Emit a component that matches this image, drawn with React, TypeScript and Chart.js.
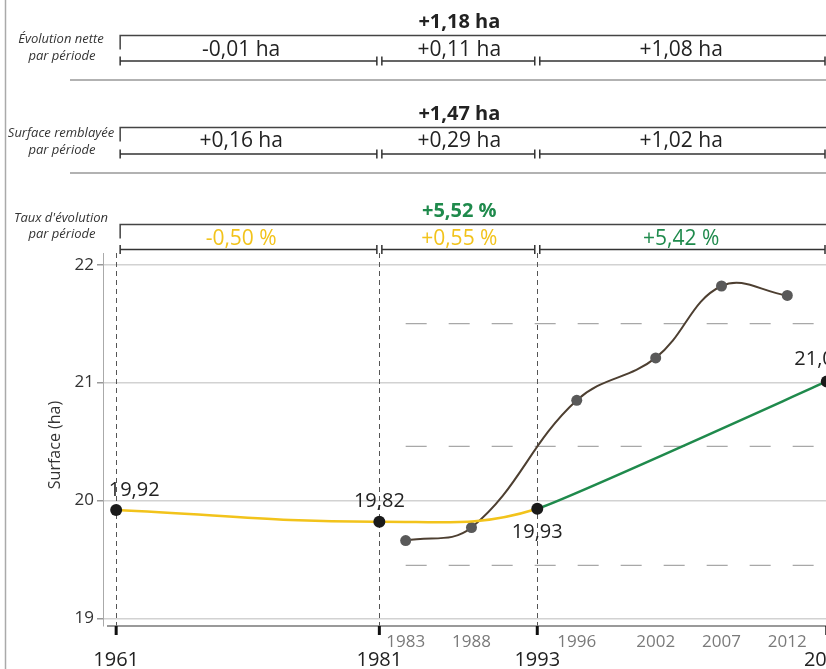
import React, { useEffect, useRef } from "react";
import { Chart, registerables } from "chart.js";

Chart.register(...registerables);

// ---- data ----
const mainYears = [1961, 1981, 1993, 2015];
const mainValues = [19.92, 19.82, 19.93, 21.01];
const mainLabels = ["19,92", "19,82", "19,93", "21,01"];
const surveyYears = [1983, 1988, 1996, 2002, 2007, 2012];
const surveyValues = [19.66, 19.77, 20.85, 21.21, 21.82, 21.74];
const refLineYears = [1983, 2014];
const refLineValues = [21.5, 20.46, 19.45];
const yTicks = [19, 20, 21, 22];
const periodBounds = [1961, 1981, 1993, 2015];
const majorYearLabels = ["1961", "1981", "1993", "2015"];
const rowTitles = [
  ["Évolution nette", "par période"],
  ["Surface remblayée", "par période"],
  ["Taux d'évolution", "par période"],
];
const rowTotals = ["+1,18 ha", "+1,47 ha", "+5,52 %"];
const netValues = ["-0,01 ha", "+0,11 ha", "+1,08 ha"];
const filledValues = ["+0,16 ha", "+0,29 ha", "+1,02 ha"];
const rateValues = ["-0,50 %", "+0,55 %", "+5,42 %"];

const YELLOW = "#f2c31b";
const GREEN = "#1f8a4c";
const BROWN = "#4d3f31";
const CLEAR = "rgba(0,0,0,0)";
const FONT = "'Open Sans', 'Noto Sans', sans-serif";

const rowGeom = [
  { totalY: 22.5, topY: 35.5, valueY: 50, bottomY: 61, sepY: 80, l1: 39, l2: 56 },
  { totalY: 114, topY: 127.5, valueY: 141, bottomY: 154, sepY: 173, l1: 133, l2: 150 },
  { totalY: 211, topY: 224.5, valueY: 239, bottomY: 249.5, sepY: null as number | null, l1: 218, l2: 234 },
];

const decorPlugin = {
  id: "decor",
  beforeDatasetsDraw(chart: any) {
    const { ctx, chartArea } = chart;
    const xs = chart.scales.x;
    ctx.save();
    // vertical dashed period lines
    ctx.strokeStyle = "#555";
    ctx.lineWidth = 1;
    ctx.setLineDash([5, 4]);
    periodBounds.forEach((yr) => {
      const x = Math.round(xs.getPixelForValue(yr)) + 0.5;
      ctx.beginPath();
      ctx.moveTo(x, chartArea.top);
      ctx.lineTo(x, chartArea.bottom);
      ctx.stroke();
    });
    ctx.setLineDash([]);
    // x axis line
    ctx.strokeStyle = "#777";
    ctx.lineWidth = 1.5;
    ctx.beginPath();
    ctx.moveTo(chartArea.left + 4, chartArea.bottom);
    ctx.lineTo(chartArea.right, chartArea.bottom);
    ctx.stroke();
    // thick ticks
    ctx.strokeStyle = "#111";
    ctx.lineWidth = 3;
    periodBounds.forEach((yr) => {
      const x = xs.getPixelForValue(yr);
      ctx.beginPath();
      ctx.moveTo(x, chartArea.bottom);
      ctx.lineTo(x, chartArea.bottom + 9);
      ctx.stroke();
    });
    // x labels
    ctx.textAlign = "center";
    ctx.textBaseline = "middle";
    ctx.fillStyle = "#7a7a7a";
    ctx.font = `17px ${FONT}`;
    surveyYears.forEach((yr) => {
      ctx.fillText(String(yr), xs.getPixelForValue(yr), chartArea.bottom + 16);
    });
    ctx.fillStyle = "#222";
    ctx.font = `20px ${FONT}`;
    periodBounds.forEach((yr, i) => {
      ctx.fillText(majorYearLabels[i], xs.getPixelForValue(yr), chartArea.bottom + 34);
    });
    // y title
    ctx.save();
    ctx.translate(55, 445);
    ctx.rotate(-Math.PI / 2);
    ctx.fillStyle = "#333";
    ctx.font = `16px ${FONT}`;
    ctx.fillText("Surface (ha)", 0, 0);
    ctx.restore();
    ctx.restore();
  },
  afterDatasetsDraw(chart: any) {
    const { ctx } = chart;
    const xs = chart.scales.x;
    const ys = chart.scales.y;
    ctx.save();
    ctx.fillStyle = "#222";
    ctx.font = `20px ${FONT}`;
    ctx.textAlign = "center";
    ctx.textBaseline = "middle";
    const offs = [
      [18, -20],
      [0, -20],
      [0, 24],
      [-7, -22],
    ];
    mainYears.forEach((yr, i) => {
      const x = xs.getPixelForValue(yr) + offs[i][0];
      const y = ys.getPixelForValue(mainValues[i]) + offs[i][1];
      ctx.fillText(mainLabels[i], x, y);
    });
    ctx.restore();
  },
  afterDraw(chart: any) {
    const { ctx, chartArea } = chart;
    const xs = chart.scales.x;
    const px = periodBounds.map((y) => xs.getPixelForValue(y));
    const left = px[0] + 4;
    const right = Math.min(px[3], 825);
    const b1 = px[1];
    const b2 = px[2];
    const centers = [(chartArea.left + b1) / 2, (b1 + b2) / 2 + 1, (b2 + right) / 2];
    const segs = [
      [left, b1 - 2.5],
      [b1 + 2.5, b2 - 2.5],
      [b2 + 2.5, right],
    ];
    const rowValues = [netValues, filledValues, rateValues];
    const valueColors = [
      ["#222", "#222", "#222"],
      ["#222", "#222", "#222"],
      [YELLOW, YELLOW, GREEN],
    ];
    const totalColors = ["#222", "#222", GREEN];
    ctx.save();
    // left frame line
    ctx.strokeStyle = "#aaa";
    ctx.lineWidth = 1.5;
    ctx.beginPath();
    ctx.moveTo(5.5, 0);
    ctx.lineTo(5.5, chart.height);
    ctx.stroke();

    ctx.textBaseline = "middle";
    rowGeom.forEach((g, r) => {
      // left labels
      ctx.fillStyle = "#333";
      ctx.font = `italic 13px ${FONT}`;
      ctx.textAlign = "center";
      ctx.fillText(rowTitles[r][0], 61, g.l1);
      ctx.fillText(rowTitles[r][1], 62, g.l2);
      // total
      ctx.fillStyle = totalColors[r];
      ctx.font = `bold 20px ${FONT}`;
      ctx.fillText(rowTotals[r], centers[1], g.totalY);
      // top line
      ctx.strokeStyle = "#444";
      ctx.lineWidth = 1.5;
      ctx.beginPath();
      ctx.moveTo(left, g.topY + 14);
      ctx.lineTo(left, g.topY);
      ctx.lineTo(826, g.topY);
      ctx.stroke();
      // bottom line segments
      ctx.strokeStyle = "#333";
      segs.forEach(([a, b]) => {
        ctx.beginPath();
        ctx.moveTo(a, g.bottomY);
        ctx.lineTo(b, g.bottomY);
        ctx.moveTo(a, g.bottomY - 4.5);
        ctx.lineTo(a, g.bottomY + 4.5);
        ctx.moveTo(b, g.bottomY - 4.5);
        ctx.lineTo(b, g.bottomY + 4.5);
        ctx.stroke();
      });
      // values
      ctx.font = `21px ${FONT}`;
      rowValues[r].forEach((v, i) => {
        ctx.fillStyle = valueColors[r][i];
        ctx.fillText(v, centers[i], g.valueY);
      });
      // separator
      if (g.sepY !== null) {
        ctx.strokeStyle = "#999";
        ctx.lineWidth = 1.5;
        ctx.beginPath();
        ctx.moveTo(70, g.sepY);
        ctx.lineTo(826, g.sepY);
        ctx.stroke();
      }
    });
    ctx.restore();
  },
};

export default function App() {
  const canvasRef = useRef<HTMLCanvasElement | null>(null);

  useEffect(() => {
    document.body.style.margin = "0";
    const canvas = canvasRef.current;
    if (!canvas) return;

    const refDatasets = refLineValues.map((v) => ({
      type: "line" as const,
      data: refLineYears.map((yr) => ({ x: yr, y: v })),
      borderColor: "#a8a8a8",
      borderWidth: 1.2,
      borderDash: [21, 22],
      pointRadius: 0,
      tension: 0,
      order: 4,
    }));

    const mainPoints = mainYears.map((yr, i) => ({ x: yr, y: mainValues[i] }));

    const chart = new Chart(canvas, {
      type: "line",
      data: {
        datasets: [
          ...refDatasets,
          {
            data: surveyYears.map((yr, i) => ({ x: yr, y: surveyValues[i] })),
            borderColor: BROWN,
            borderWidth: 2,
            pointRadius: 5.5,
            pointBackgroundColor: "#595959",
            pointBorderWidth: 0,
            tension: 0.4,
            order: 3,
          },
          {
            // green period (1993-2015), nearly straight
            data: mainPoints,
            borderColor: GREEN,
            borderWidth: 2.5,
            segment: {
              borderColor: (c: any) => (c.p0DataIndex < 2 ? CLEAR : GREEN),
            },
            pointRadius: 0,
            tension: 0.1,
            order: 2,
          },
          {
            // yellow periods (1961-1993) + points
            data: mainPoints,
            borderColor: YELLOW,
            borderWidth: 2.5,
            segment: {
              borderColor: (c: any) => (c.p0DataIndex < 2 ? YELLOW : CLEAR),
            },
            pointRadius: 6,
            pointBackgroundColor: "#1a1a1a",
            pointBorderWidth: 0,
            tension: 0.4,
            order: 1,
          },
        ],
      },
      options: {
        responsive: false,
        animation: false,
        devicePixelRatio: 1,
        layout: { padding: { top: 253, bottom: 43, left: 0, right: 0 } },
        plugins: { legend: { display: false }, tooltip: { enabled: false } },
        scales: {
          x: { type: "linear", min: 1960, max: 2017.6, display: false },
          y: {
            min: 18.935,
            max: 22.1,
            afterBuildTicks: (scale: any) => {
              scale.ticks = yTicks.map((v) => ({ value: v }));
            },
            afterFit: (scale: any) => {
              scale.width = 103;
            },
            ticks: {
              color: "#333",
              font: { family: FONT, size: 17 },
              padding: 3,
            },
            grid: {
              color: "#d2d2d2",
              lineWidth: 1.5,
              tickLength: 6,
              tickColor: "#999",
            },
            border: { color: "#aaa", width: 1 },
          },
        },
      },
      plugins: [decorPlugin],
    });
    return () => chart.destroy();
  }, []);

  return (
    <div style={{ width: 826, height: 669, overflow: "hidden", position: "relative", background: "#fff" }}>
      <canvas ref={canvasRef} width={867} height={669} style={{ display: "block" }} />
    </div>
  );
}
